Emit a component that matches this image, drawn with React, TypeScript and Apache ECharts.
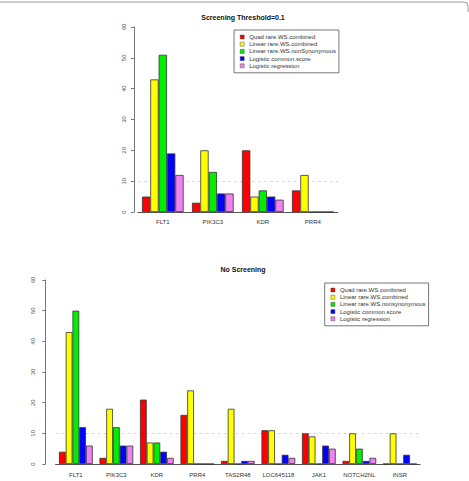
import { useEffect, useRef } from "react";
import * as echarts from "echarts";

// Genes selected at screening threshold 0.1
const screenedGenes = ["FLT1", "PIK3C3", "KDR", "PRR4"];
const screenedQuad = [5, 3, 20, 7];
const screenedLinear = [43, 20, 5, 12];
const screenedNonSyn = [51, 13, 7, 0];
const screenedCommon = [19, 6, 5, 0];
const screenedLogistic = [12, 6, 4, 0];

// Genes without screening
const allGenes = ["FLT1", "PIK3C3", "KDR", "PRR4", "TAS2R48", "LOC645118", "JAK1", "NOTCH2NL", "INSR"];
const allQuad = [4, 2, 21, 16, 1, 11, 10, 1, 0];
const allLinear = [43, 18, 7, 24, 18, 11, 9, 10, 10];
const allNonSyn = [50, 12, 7, 0, 0, 0, 0, 5, 0];
const allCommon = [12, 6, 4, 0, 1, 3, 6, 1, 3];
const allLogistic = [6, 6, 2, 0, 1, 2, 5, 2, 0];

const screenedMethods = [
  "Quad rare.WS.combined",
  "Linear rare.WS.combined",
  "Linear rare.WS.nonSynonymous",
  "Logistic common.score",
  "Logistic regression",
];
const allMethods = [
  "Quad rare.WS.combined",
  "Linear rare.WS.combined",
  "Linear rare.WS.nonsynonymous",
  "Logistic common.score",
  "Logistic regression",
];

const yMax = 60;
const yStep = 10;
const referenceLevel = 10;

const titles = ["Screening Threshold=0.1", "No Screening"];

const FONT = "Liberation Sans, Arial, Helvetica, sans-serif";
const COLORS = ["#ff0000", "#ffff00", "#00ee00", "#0000ff", "#ee82ee"];

export default function App() {
  const ref = useRef<HTMLDivElement>(null);

  useEffect(() => {
    if (!ref.current) return;
    const chart = echarts.init(ref.current, undefined, { renderer: "svg" });

    const grids = [
      { left: 137.8, top: 27, width: 200, height: 185 },
      { left: 55.6, top: 280, width: 364.5, height: 184 },
    ];

    const makeX = (idx: number, cats: string[], margin: number) => ({
      type: "category" as const,
      gridIndex: idx,
      data: cats,
      axisLine: { show: true, lineStyle: { color: "#555", width: 1 } },
      axisTick: { show: false },
      axisLabel: { fontSize: 6, color: "#333", margin, interval: 0, fontFamily: FONT },
    });

    const makeY = (idx: number, offset: number, margin: number) => ({
      type: "value" as const,
      gridIndex: idx,
      min: 0,
      max: yMax,
      interval: yStep,
      offset,
      axisLine: { show: true, lineStyle: { color: "#777", width: 1 } },
      axisTick: { show: true, length: 3, lineStyle: { color: "#777" } },
      axisLabel: { fontSize: 6, color: "#555", rotate: 90, margin, fontFamily: FONT },
      splitLine: { show: false },
    });

    const buildSeries = (names: string[], data: number[][], axisIdx: number) =>
      names.map((name, i) => ({
        type: "bar" as const,
        name,
        xAxisIndex: axisIdx,
        yAxisIndex: axisIdx,
        data: data[i],
        barGap: "0%",
        barCategoryGap: "16.667%",
        z: 2,
        itemStyle: { color: COLORS[i], borderColor: "#333", borderWidth: 0.8 },
        markLine:
          i === 0
            ? {
                silent: true,
                z: 1,
                symbol: ["none", "none"],
                label: { show: false },
                lineStyle: { color: "#d8d8d8", type: [3, 3], width: 1 },
                data: [{ yAxis: referenceLevel }],
              }
            : undefined,
      }));

    const legendBase = {
      orient: "vertical" as const,
      icon: "rect",
      itemWidth: 4,
      itemHeight: 4,
      itemGap: 1.2,
      padding: [4, 3, 4, 6],
      borderColor: "#777",
      borderWidth: 1,
      itemStyle: { borderColor: "#333", borderWidth: 0.4 },
      textStyle: { fontSize: 6, lineHeight: 6, color: "#333", fontFamily: FONT },
    };

    chart.setOption({
      animation: false,
      backgroundColor: "#ffffff",
      title: [
        {
          text: titles[0],
          left: 238,
          top: 9,
          textAlign: "center",
          textStyle: { fontSize: 7, fontWeight: "bold", color: "#111", fontFamily: FONT },
        },
        {
          text: titles[1],
          left: 238,
          top: 261,
          textAlign: "center",
          textStyle: { fontSize: 7, fontWeight: "bold", color: "#111", fontFamily: FONT },
        },
      ],
      legend: [
        { ...legendBase, data: screenedMethods, left: 234, top: 30 },
        { ...legendBase, data: allMethods, left: 324.7, top: 283 },
      ],
      grid: grids,
      xAxis: [makeX(0, screenedGenes, 7), makeX(1, allGenes, 8)],
      yAxis: [makeY(0, 3.8, 7), makeY(1, 10.3, 9)],
      series: [
        ...buildSeries(
          screenedMethods,
          [screenedQuad, screenedLinear, screenedNonSyn, screenedCommon, screenedLogistic],
          0
        ),
        ...buildSeries(allMethods, [allQuad, allLinear, allNonSyn, allCommon, allLogistic], 1),
      ],
      graphic: [
        {
          type: "polyline",
          silent: true,
          shape: {
            points: [
              [0, 2],
              [464, 2],
              [467, 3],
              [468, 6],
              [468, 12],
            ],
          },
          style: { stroke: "#999", lineWidth: 1, fill: "none" },
        },
      ],
    });

    return () => chart.dispose();
  }, []);

  return (
    <div
      ref={ref}
      style={{ position: "absolute", left: 0, top: 0, width: 469, height: 481, background: "#fff" }}
    />
  );
}
